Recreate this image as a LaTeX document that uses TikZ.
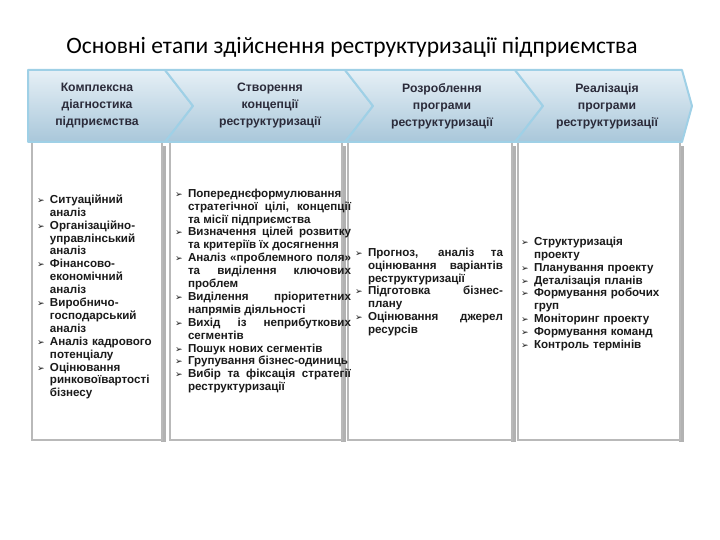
\documentclass[tikz,border=0pt]{standalone}
\usepackage{fontspec}
\setmainfont{Liberation Sans}
\newfontfamily\carl{Carlito}
\newfontfamily\dejavu{DejaVu Sans}
\usetikzlibrary{shadows}
\definecolor{chevtop}{HTML}{E6F0F6}
\definecolor{chevbot}{HTML}{A9C7DA}
\definecolor{chevedge}{HTML}{9FD0E6}
\definecolor{txt}{HTML}{1A1A1A}
\definecolor{htxt}{HTML}{2B2B3A}
\newcommand{\bul}{{\dejavu\fontsize{9}{9}\selectfont ➢}}
\newcommand{\itm}[1]{\hangindent=13pt\hangafter=1\noindent\makebox[13pt][l]{\bul}#1\par}
\tikzset{
 chev/.style={top color=chevtop,bottom color=chevbot,draw=chevedge,line width=2pt,line join=round},
 col/.style={fill=white,draw=gray!55,line width=1.2pt},
 colshade/.style={fill=gray!60},
 head/.style={align=center,font=\bfseries\fontsize{12.2}{17}\selectfont,text=htxt},
 lst/.style={font=\bfseries\fontsize{11.6}{12.9}\selectfont,text=txt,anchor=center,inner sep=0pt},
}
\begin{document}
\begin{tikzpicture}[x=1pt,y=-1pt]
\useasboundingbox (0,0) rectangle (720,540);
\node (title) at (352,47) {\carl\fontsize{23.5}{25}\selectfont Основні етапи здійснення реструктуризації підприємства};
\foreach \a/\b in {32/162,170/342,348/512,518/680}{
  \fill[colshade] (\b-1,146) rectangle (\b+4,442);
  \draw[col] (\a,142) rectangle (\b,440);
}
\draw[chev] (28,70) -- (165,70) -- (193,106) -- (165,142) -- (28,142) -- cycle;
\draw[chev] (165,70) -- (345,70) -- (373,106) -- (345,142) -- (165,142) -- (193,106) -- cycle;
\draw[chev] (345,70) -- (515,70) -- (543,106) -- (515,142) -- (345,142) -- (373,106) -- cycle;
\draw[chev] (515,70) -- (682,70) -- (692,106) -- (682,142) -- (515,142) -- (543,106) -- cycle;
\node[head] (h1) at (97,106) {Комплексна\\діагностика\\підприємства};
\node[head] (h2) at (270,106) {Створення\\концепції\\реструктуризації};
\node[head] (h3) at (442,106) {Розроблення\\програми\\реструктуризації};
\node[head] (h4) at (607,106) {Реалізація\\програми\\реструктуризації};
\node[lst,text width=124pt,align=left] (l1) at (99,297) {%
\itm{Ситуаційний аналіз}
\itm{Організаційно-управлінський аналіз}
\itm{Фінансово-економічний аналіз}
\itm{Виробничо-господарський аналіз}
\itm{Аналіз кадрового потенціалу}
\itm{Оцінювання ринковоївартості бізнесу}};
\node[lst,text width=176pt,align=justify] (l2) at (263,291) {%
\itm{Попереднєформулювання стратегічної цілі, концепції та місії підприємства}
\itm{Визначення цілей розвитку та критеріїв їх досягнення}
\itm{Аналіз «проблемного поля» та виділення ключових проблем}
\itm{Виділення пріоритетних напрямів діяльності}
\itm{Вихід із неприбуткових сегментів}
\itm{Пошук нових сегментів}
\itm{Групування бізнес-одиниць}
\itm{Вибір та фіксація стратегії реструктуризації}};
\node[lst,text width=148pt,align=justify] (l3) at (429,292) {%
\itm{Прогноз, аналіз та оцінювання варіантів реструктуризації}
\itm{Підготовка бізнес-плану}
\itm{Оцінювання джерел ресурсів}};
\node[lst,text width=146pt,align=left] (l4) at (594,294) {%
\itm{Структуризація проекту}
\itm{Планування проекту}
\itm{Деталізація планів}
\itm{Формування робочих груп}
\itm{Моніторинг проекту}
\itm{Формування команд}
\itm{Контроль термінів}};
\end{tikzpicture}
\end{document}
